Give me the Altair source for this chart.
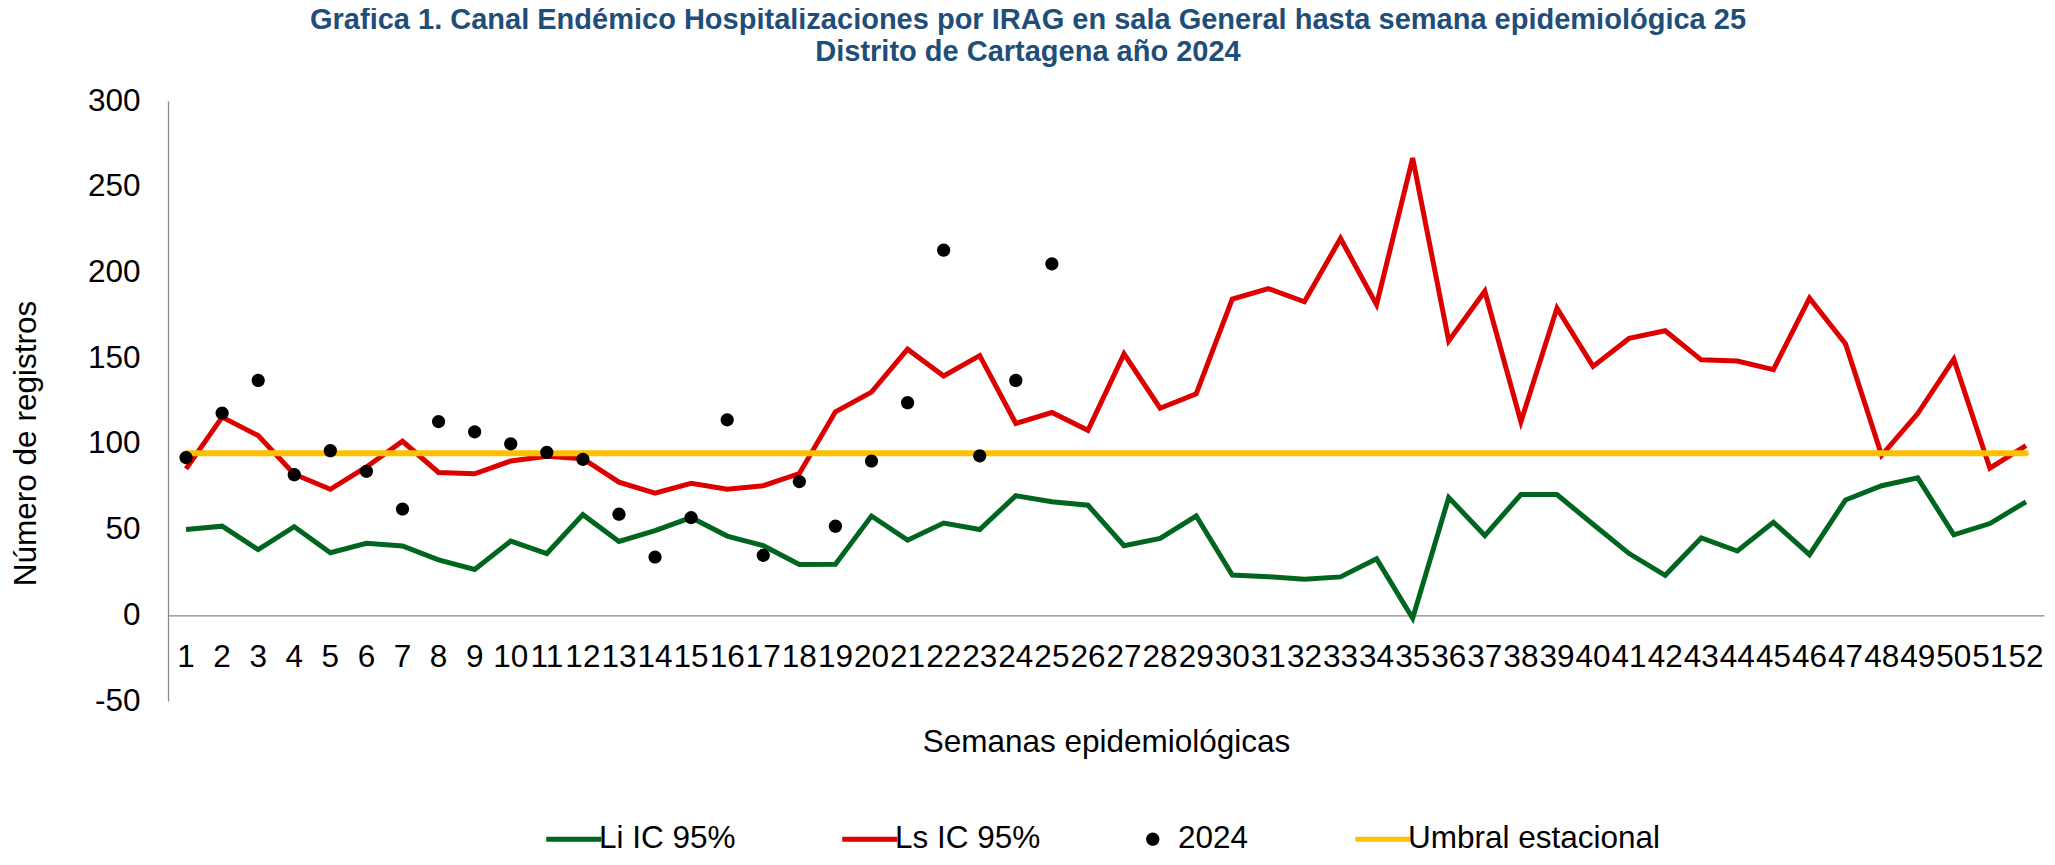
import altair as alt
import pandas as pd

# ---------------- data ----------------
semanas = list(range(1, 53))

li_ic95 = [50, 52, 38.3, 51.7, 36.5, 42, 40.4, 32.3, 26.7, 43.3,
           36, 58.7, 43.1, 49.4, 57, 46.2, 40.6, 29.6, 29.8, 57.9,
           43.8, 53.8, 50, 69.8, 66.2, 64.2, 40.6, 44.8, 57.9, 23.5,
           22.5, 21, 22.4, 32.9, -1.7, 68.7, 46.5, 70.4, 70.4, 53.1,
           36, 23.3, 45.2, 37.5, 54.2, 35.4, 67.3, 75.6, 80.2, 46.9,
           53.5, 66.2]

ls_ic95 = [85.4, 115.6, 104.8, 82.3, 73.5, 86.5, 101.5, 83.3, 82.5, 90,
           92.7, 91.3, 77.7, 71.3, 77, 73.5, 75.6, 82.7, 118.7, 130.2,
           155.2, 139.6, 151.5, 111.9, 118.3, 107.9, 152.5, 120.8, 129.2, 184.4,
           190.6, 182.9, 219.8, 181.2, 266.7, 160, 189, 112.9, 179.2, 145.2,
           161.5, 166, 149, 148.3, 143.3, 185, 158.3, 93.3, 117.7, 149.4,
           85.8, 99]

casos_2024 = [92, 118, 137, 82, 96, 84, 62, 113, 107, 100,
              95, 91, 59, 34, 57, 114, 35, 78, 52, 90,
              124, 213, 93, 137, 205]

umbral_estacional = 94.5

series = ["Li IC 95%", "Ls IC 95%", "2024", "Umbral estacional"]
colores = ["#00661F", "#DD0000", "#000000", "#FFC000"]
# small filled circle drawn inside the same symbol box as the line symbols
circulo = "M-0.24,0A0.24,0.24,0,1,1,0.24,0A0.24,0.24,0,1,1,-0.24,0Z"
formas = ["stroke", "stroke", circulo, "stroke"]
SYM = 3025

y_ticks = [-50, 0, 50, 100, 150, 200, 250, 300]

titulo = ["Grafica 1. Canal Endémico Hospitalizaciones por IRAG en sala General hasta semana epidemiológica 25",
          "Distrito de Cartagena año 2024"]

# ---------------- tables ----------------
df_lim = pd.concat([
    pd.DataFrame({"semana": semanas, "valor": li_ic95, "serie": series[0]}),
    pd.DataFrame({"semana": semanas, "valor": ls_ic95, "serie": series[1]}),
], ignore_index=True)

df_2024 = pd.DataFrame({"semana": semanas[:len(casos_2024)], "valor": casos_2024, "serie": series[2]})

df_umbral = pd.DataFrame({"semana": [semanas[0]], "semana_fin": [semanas[-1]],
                          "valor": [umbral_estacional], "serie": [series[3]]})

FONT = "Liberation Sans, Arial, sans-serif"
FS = 31.5
GRAY = "#898989"

x_scale = alt.Scale(domain=semanas)
y_scale = alt.Scale(domain=[-50, 300], nice=False, zero=False)

color = alt.Color("serie:N", scale=alt.Scale(domain=series, range=colores),
                  legend=alt.Legend(title=None))

x_enc = alt.X("semana:O", scale=x_scale, sort=semanas,
              axis=alt.Axis(title="Semanas epidemiológicas", labelAngle=0, ticks=False,
                            labelPadding=26, labelOverlap=False, offset=-85.7,
                            titleY=127, titleBaseline="middle"))
y_enc = alt.Y("valor:Q", scale=y_scale,
              axis=alt.Axis(title="Número de registros", values=y_ticks, ticks=False,
                            grid=False, labelPadding=28, labelExpr="'' + datum.value",
                            titleX=-133, titleY=342,
                            titleBaseline="alphabetic", titleAlign="center", titleAngle=-90))

lineas = alt.Chart(df_lim).mark_line(strokeWidth=5).encode(
    x=x_enc, y=y_enc, color=color, detail="serie:N")

umbral = alt.Chart(df_umbral).mark_rule(strokeWidth=6, strokeCap="round").encode(
    x=alt.X("semana:O", scale=x_scale, sort=semanas),
    x2="semana_fin:O",
    y=alt.Y("valor:Q", scale=y_scale),
    color=color)

puntos = alt.Chart(df_2024).mark_point(filled=True, opacity=1, size=SYM).encode(
    x=alt.X("semana:O", scale=x_scale, sort=semanas),
    y=alt.Y("valor:Q", scale=y_scale),
    color=color,
    shape=alt.Shape("serie:N", scale=alt.Scale(domain=series, range=formas),
                    legend=alt.Legend(title=None)))

chart = alt.layer(lineas, umbral, puntos).properties(
    width=1876, height=600,
    autosize=alt.AutoSizeParams(type="none"),
    padding={"left": 160, "top": 93, "right": 3, "bottom": 154},
    title=alt.TitleParams(text=titulo, font=FONT, fontSize=29,
                          fontWeight="bold", color="#1F4E79", anchor="middle",
                          frame="group", dx=-78, offset=18, lineHeight=32),
).configure_view(stroke=None).configure_axis(
    labelFont=FONT, titleFont=FONT, labelFontSize=FS, titleFontSize=FS,
    labelColor="#000000", titleColor="#000000", titleFontWeight="normal",
    domainColor=GRAY, domainWidth=1.3, grid=False,
).configure_legend(
    orient="none", legendX=390, legendY=722, direction="horizontal",
    labelFont=FONT, labelFontSize=FS, labelColor="#000000", labelOffset=9.5,
    columnPadding=96, padding=0, labelLimit=0, symbolOpacity=1, symbolSize=SYM,
    symbolStrokeWidth=alt.ExprRef(expr="datum.value === '2024' ? 0 : 5"),
)

chart.save("out.html", embed_options={"renderer": "svg", "actions": False})
